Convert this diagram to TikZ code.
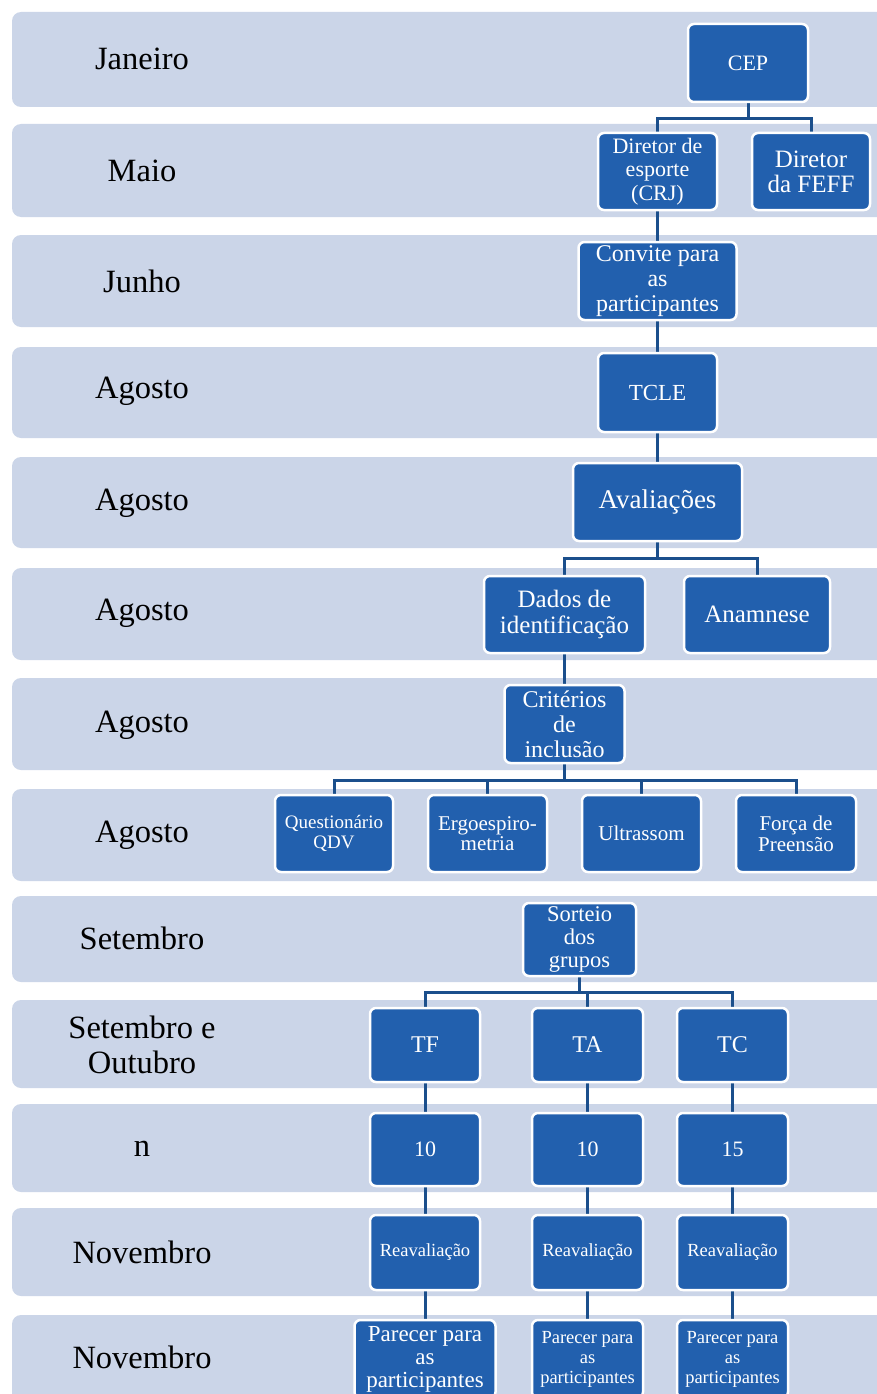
\documentclass[tikz,border=0pt]{standalone}
\usepackage{fontspec}
\setmainfont{Liberation Serif}
\pgfdeclarelayer{bg}
\pgfdeclarelayer{lines}
\pgfsetlayers{bg,lines,main}
\definecolor{band}{HTML}{CBD5E8}
\definecolor{boxfill}{HTML}{2260AE}
\definecolor{conn}{HTML}{1B4F8C}
\tikzset{
  boxnode/.style={draw=white, line width=2.5pt, fill=boxfill, rounded corners=6pt, text=white, align=center, inner sep=0pt, minimum width=#1},
  boxnode/.default=119pt,
  month/.style={text=black, align=center, inner sep=0pt, font=\fontsize{32.5}{35}\selectfont},
  conline/.style={draw=conn, line width=3pt},
  bandbox/.style={fill=band, rounded corners=9pt}
}
\newcommand{\fs}[2]{\fontsize{#1}{#2}\selectfont}
\begin{document}
\begin{tikzpicture}[x=1pt,y=-1pt]
\useasboundingbox (0,0) rectangle (877,1394);
\clip (0,0) rectangle (877,1394);
\begin{pgfonlayer}{bg}
\fill[white] (0,0) rectangle (877,1394);
\foreach \a/\b in {12/107,124/217,235/327,347/438,457/548,568/660,678/770,789/881,896/982,1000/1088,1104/1192,1208/1296,1315/1420}{
  \fill[bandbox] (12,\a) rectangle (900,\b);
}
\end{pgfonlayer}

% month labels
\node[month] (m1) at (142,59) {Janeiro};
\node[month] (m2) at (142,171) {Maio};
\node[month] (m3) at (142,281) {Junho};
\node[month] (m4) at (142,391) {Agosto};
\node[month] (m5) at (142,503) {Agosto};
\node[month] (m6) at (142,613) {Agosto};
\node[month] (m7) at (142,725) {Agosto};
\node[month] (m8) at (142,835) {Agosto};
\node[month] (m9) at (142,938) {Setembro};
\node[month] (m10) at (142,1045) {Setembro e\\Outubro};
\node[month] (m11) at (142,1149) {n};
\node[month] (m12) at (142,1252) {Novembro};
\node[month] (m13) at (142,1357) {Novembro};

% boxes
\node[boxnode=120pt, minimum height=78pt, font=\fs{22}{24}] (cep) at (748,63) {CEP};
\node[boxnode=119pt, minimum height=77pt, font=\fs{22}{23.5}] (d1) at (657.5,171.5) {Diretor de\\esporte\\(CRJ)};
\node[boxnode=118pt, minimum height=77pt, font=\fs{25}{25}] (d2) at (811,171.5) {Diretor\\da FEFF};
\node[boxnode=158pt, minimum height=78pt, font=\fs{24}{25}] (conv) at (657.5,281) {Convite para\\as\\participantes};
\node[boxnode=119pt, minimum height=79pt, font=\fs{23}{25}] (tcle) at (657.5,392.5) {TCLE};
\node[boxnode=169pt, minimum height=78pt, font=\fs{27}{28}] (aval) at (657.5,502) {Avaliações};
\node[boxnode=161pt, minimum height=77pt, font=\fs{25}{26}] (dados) at (564.5,614.5) {Dados de\\identificação};
\node[boxnode=146pt, minimum height=77pt, font=\fs{25}{26}] (anam) at (757,614.5) {Anamnese};
\node[boxnode=120pt, minimum height=78pt, font=\fs{24}{25}] (crit) at (564.5,724) {Critérios\\de\\inclusão};
\node[boxnode=118pt, minimum height=77pt, font=\fs{19}{20}] (q1) at (334,833.5) {Questionário\\QDV};
\node[boxnode=119pt, minimum height=77pt, font=\fs{21}{20}] (q2) at (487.5,833.5) {Ergoespiro-\\metria};
\node[boxnode=119pt, minimum height=77pt, font=\fs{21}{21}] (q3) at (641.5,833.5) {Ultrassom};
\node[boxnode=120pt, minimum height=77pt, font=\fs{21}{21}] (q4) at (796,833.5) {Força de\\Preensão};
\node[boxnode=113pt, minimum height=73pt, font=\fs{22.5}{23}] (sort) at (579.5,939.5) {Sorteio\\dos\\grupos};
\node[boxnode=110pt, minimum height=74pt, font=\fs{24}{25}] (tf) at (425,1045) {TF};
\node[boxnode=111pt, minimum height=74pt, font=\fs{24}{25}] (ta) at (587.5,1045) {TA};
\node[boxnode=111pt, minimum height=74pt, font=\fs{24}{25}] (tc) at (732.5,1045) {TC};
\node[boxnode=110pt, minimum height=73pt, font=\fs{22}{24}] (n1) at (425,1149.5) {10};
\node[boxnode=111pt, minimum height=73pt, font=\fs{22}{24}] (n2) at (587.5,1149.5) {10};
\node[boxnode=111pt, minimum height=73pt, font=\fs{22}{24}] (n3) at (732.5,1149.5) {15};
\node[boxnode=110pt, minimum height=75pt, font=\fs{18.5}{20}] (r1) at (425,1252.5) {Reavaliação};
\node[boxnode=111pt, minimum height=75pt, font=\fs{18.5}{20}] (r2) at (587.5,1252.5) {Reavaliação};
\node[boxnode=111pt, minimum height=75pt, font=\fs{18.5}{20}] (r3) at (732.5,1252.5) {Reavaliação};
\node[boxnode=141pt, minimum height=78pt, font=\fs{23}{23}] (p1) at (425,1359) {Parecer para\\as\\participantes};
\node[boxnode=111pt, minimum height=78pt, font=\fs{18.5}{20}] (p2) at (587.5,1359) {Parecer para\\as\\participantes};
\node[boxnode=111pt, minimum height=78pt, font=\fs{18.5}{20}] (p3) at (732.5,1359) {Parecer para\\as\\participantes};

% connectors
\begin{pgfonlayer}{lines}
\draw[conline] (cep.south) -- ++(0,15) -| (d1.north);
\draw[conline] (cep.south) -- ++(0,15) -| (d2.north);
\draw[conline] (d1.south) -- (conv.north);
\draw[conline] (conv.south) -- (tcle.north);
\draw[conline] (tcle.south) -- (aval.north);
\draw[conline] (aval.south) -- ++(0,16) -| (dados.north);
\draw[conline] (aval.south) -- ++(0,16) -| (anam.north);
\draw[conline] (dados.south) -- (crit.north);
\foreach \q in {q1,q2,q3,q4}{
  \draw[conline] (crit.south) -- ++(0,16) -| (\q.north);
}
\foreach \t in {tf,ta,tc}{
  \draw[conline] (sort.south) -- ++(0,15) -| (\t.north);
}
\draw[conline] (tf.south) -- (n1.north);
\draw[conline] (ta.south) -- (n2.north);
\draw[conline] (tc.south) -- (n3.north);
\draw[conline] (n1.south) -- (r1.north);
\draw[conline] (n2.south) -- (r2.north);
\draw[conline] (n3.south) -- (r3.north);
\draw[conline] (r1.south) -- (p1.north);
\draw[conline] (r2.south) -- (p2.north);
\draw[conline] (r3.south) -- (p3.north);
\end{pgfonlayer}
\end{tikzpicture}
\end{document}
